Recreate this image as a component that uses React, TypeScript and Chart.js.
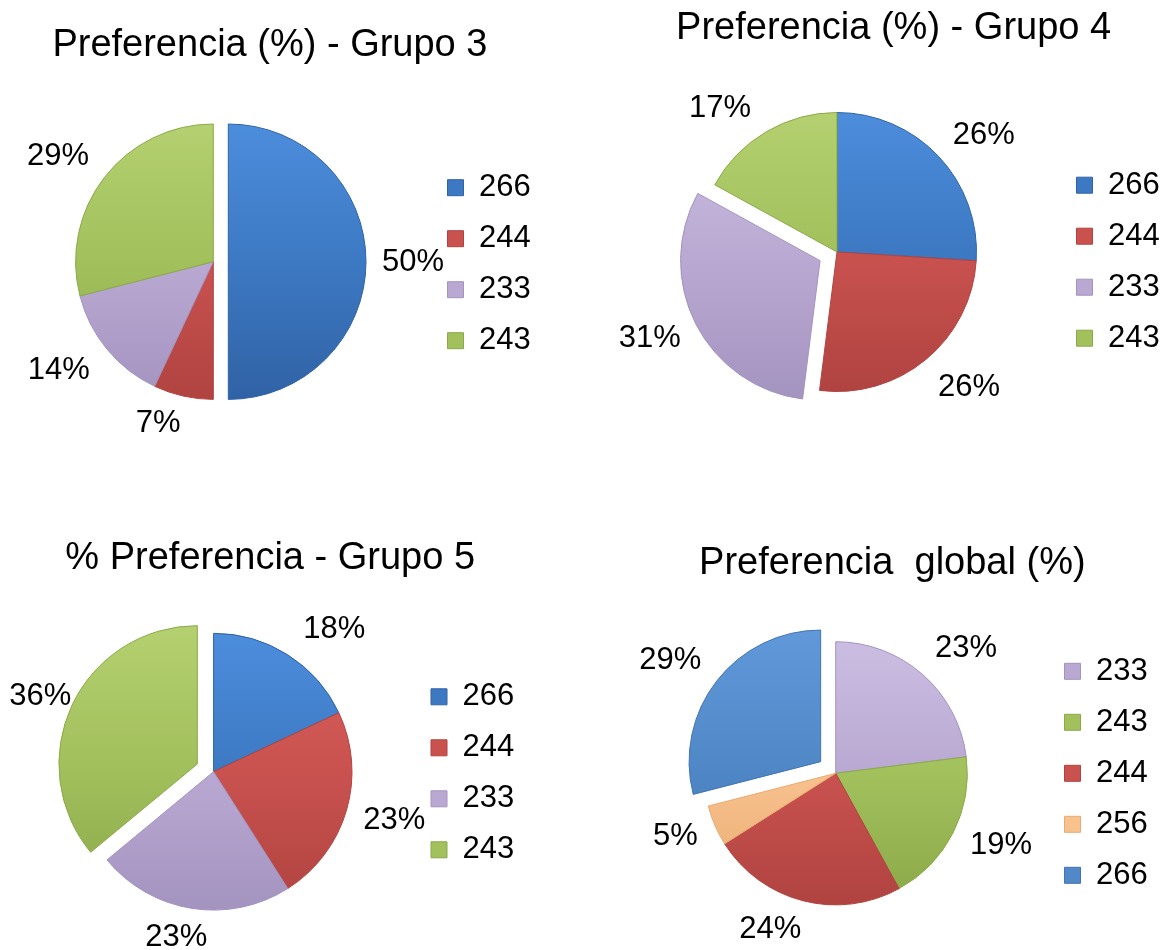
import React, { useEffect, useRef } from 'react';
import { Chart, registerables, ArcElement } from 'chart.js';

Chart.register(...registerables);

const FONT = "'Liberation Sans', Arial, Helvetica, sans-serif";

// ---------------- data ----------------
const TITLE_G3 = 'Preferencia (%) - Grupo 3';
const LABELS_G3 = ['266', '244', '233', '243'];
const VALUES_G3 = [50, 7, 14, 29];

const TITLE_G4 = 'Preferencia (%) - Grupo 4';
const LABELS_G4 = ['266', '244', '233', '243'];
const VALUES_G4 = [26, 26, 31, 17];

const TITLE_G5 = '% Preferencia - Grupo 5';
const LABELS_G5 = ['266', '244', '233', '243'];
const VALUES_G5 = [18, 23, 23, 36];

const TITLE_GLOBAL = 'Preferencia  global (%)';
const LABELS_GLOBAL = ['233', '243', '244', '256', '266'];
const VALUES_GLOBAL = [23, 19, 24, 5, 29];

// ---------------- style ----------------
// [light, mid, dark]
const SHADES: Record<string, string[]> = {
  '266': ['#4C8DDC', '#3D79C3', '#3062A5'],
  '244': ['#D9625F', '#C9524F', '#B04340'],
  '233': ['#CBBDE2', '#B9A9D2', '#A393BF'],
  '243': ['#B4D070', '#A2C05C', '#8BA948'],
  '256': ['#FDD3A8', '#F8C18E', '#E9AB72'],
};
const SHADES_GLOBAL: Record<string, string[]> = {
  ...SHADES,
  '266': ['#6098D9', '#5088C8', '#4174B1'],
};

const LEG_FONT = 31;
const LEG_PAD = 20;
const BOX = 16;
const TITLE_SIZE = 38;
const TITLE_LH = TITLE_SIZE * 1.2;
const TITLE_PT = 4;
const HALF = 170;
const MARGIN = 45;
const LABEL_FONT = 31;
const LABEL_GAP_X = 55;
const LABEL_GAP_Y = 31;

// small per-label placement nudges (Excel "best fit" placement)
const NUDGE_G3 = [[-8, 1], [-13, -3], [-6, 1], [-3, -2]];
const NUDGE_G4 = [[5, 0], [8, 4], [3, 0], [-18, 3]];
const NUDGE_G5 = [[17, 1], [-5, 1], [-7, -2], [18, 5]];
const NUDGE_GLOBAL = [[7, -3], [-1, -2], [-19, -1], [11, -1], [-3, -2]];

type Layout = {
  pieX: number;
  pieY: number;
  r: number;
  titleY: number;
  legendX: number;
  legendShift: number;
  explode: number[];
  nudge: number[][];
};

type Spec = {
  title: string;
  labels: string[];
  values: number[];
  shades: Record<string, string[]>;
  layout: Layout;
};

const SPECS: Spec[] = [
  {
    title: TITLE_G3,
    labels: LABELS_G3,
    values: VALUES_G3,
    shades: SHADES,
    layout: { pieX: 213.3, pieY: 261.7, r: 137.7, titleY: 46, legendX: 479, legendShift: 2.5, explode: [15, 0, 0, 0], nudge: NUDGE_G3 },
  },
  {
    title: TITLE_G4,
    labels: LABELS_G4,
    values: VALUES_G4,
    shades: SHADES,
    layout: { pieX: 837, pieY: 252, r: 139.5, titleY: 29, legendX: 1108, legendShift: 9.7, explode: [0, 0, 19, 0], nudge: NUDGE_G4 },
  },
  {
    title: TITLE_G5,
    labels: LABELS_G5,
    values: VALUES_G5,
    shades: SHADES,
    layout: { pieX: 213.6, pieY: 771.7, r: 138.4, titleY: 558.5, legendX: 462.5, legendShift: 1.6, explode: [0, 0, 0, 18], nudge: NUDGE_G5 },
  },
  {
    title: TITLE_GLOBAL,
    labels: LABELS_GLOBAL,
    values: VALUES_GLOBAL,
    shades: SHADES_GLOBAL,
    layout: { pieX: 835.7, pieY: 773.3, r: 131.6, titleY: 564, legendX: 1096, legendShift: 0, explode: [0, 0, 0, 0, 19], nudge: NUDGE_GLOBAL },
  },
];

function measureMax(labels: string[]): number {
  const c = document.createElement('canvas');
  const ctx = c.getContext('2d')!;
  ctx.font = `${LEG_FONT}px ${FONT}`;
  return Math.max(...labels.map((l) => ctx.measureText(l).width));
}

function geometry(spec: Spec) {
  const lay = spec.layout;
  const legendLeft = lay.legendX - (LEG_PAD + BOX + LEG_FONT / 2);
  const areaLeft = 2 * lay.pieX - legendLeft;
  const tw = measureMax(spec.labels);
  const L = 10 + LEG_PAD + BOX + LEG_FONT / 2 + tw;
  const X0 = Math.floor(areaLeft - MARGIN);
  const pl = areaLeft - X0;
  const rightEdge = legendLeft + L;
  const W = Math.ceil(rightEdge + MARGIN - X0);
  const pr = W - (rightEdge - X0);
  const titleTop = lay.titleY - TITLE_LH / 2 - TITLE_PT;
  const Y0 = Math.floor(titleTop - MARGIN);
  const pt = titleTop - Y0;
  const areaTop = lay.pieY - HALF;
  const tpb = Math.max(0, areaTop - (titleTop + TITLE_PT + TITLE_LH));
  const bottom = lay.pieY + HALF;
  const H = Math.ceil(bottom + MARGIN - Y0);
  const pb = H - (bottom - Y0);
  return { X0, Y0, W, H, pl, pr, pt, pb, tpb };
}

const explodePlugin = {
  id: 'explodeSlices',
  afterDatasetUpdate(chart: any, args: any) {
    const ds = chart.data.datasets[args.index];
    const ex: number[] = ds.explode || [];
    args.meta.data.forEach((el: any, i: number) => {
      const d = ex[i] || 0;
      el.draw = function (ctx: CanvasRenderingContext2D, area: any) {
        const mid = (this.startAngle + this.endAngle) / 2;
        ctx.save();
        ctx.translate(Math.cos(mid) * d, Math.sin(mid) * d);
        ArcElement.prototype.draw.call(this, ctx, area);
        ctx.restore();
      };
    });
  },
};

const pctLabelPlugin = {
  id: 'pctLabels',
  afterDatasetsDraw(chart: any) {
    const ctx: CanvasRenderingContext2D = chart.ctx;
    const meta = chart.getDatasetMeta(0);
    const ds = chart.data.datasets[0];
    const ex: number[] = ds.explode || [];
    const nudge: number[][] = ds.labelNudge || [];
    ctx.save();
    ctx.font = `${LABEL_FONT}px ${FONT}`;
    ctx.fillStyle = '#000';
    ctx.textAlign = 'center';
    ctx.textBaseline = 'middle';
    meta.data.forEach((el: any, i: number) => {
      const mid = (el.startAngle + el.endAngle) / 2;
      const ux = Math.cos(mid);
      const uy = Math.sin(mid);
      const d = ex[i] || 0;
      const r = el.outerRadius;
      const n = nudge[i] || [0, 0];
      const lx = el.x + ux * d + ux * (r + LABEL_GAP_X) + n[0];
      const ly = el.y + uy * d + uy * (r + LABEL_GAP_Y) + n[1];
      ctx.fillText(`${ds.data[i]}%`, lx, ly);
    });
    ctx.restore();
  },
};

function PieCanvas({ spec }: { spec: Spec }) {
  const ref = useRef<HTMLCanvasElement>(null);
  const geo = geometry(spec);

  useEffect(() => {
    const lay = spec.layout;
    const light = spec.labels.map((l) => spec.shades[l][0]);
    const mid = spec.labels.map((l) => spec.shades[l][1]);
    const dark = spec.labels.map((l) => spec.shades[l][2]);
    const th = lay.legendShift * 2;

    const chart = new Chart(ref.current as HTMLCanvasElement, {
      type: 'pie',
      data: {
        labels: spec.labels,
        datasets: [
          {
            data: spec.values,
            radius: lay.r,
            explode: lay.explode,
            labelNudge: lay.nudge,
            backgroundColor: (c: any) => {
              const area = c.chart.chartArea;
              const i = c.dataIndex ?? 0;
              if (!area) return mid[i];
              const cy = (area.top + area.bottom) / 2;
              const g = c.chart.ctx.createLinearGradient(0, cy - lay.r, 0, cy + lay.r);
              g.addColorStop(0, light[i]);
              g.addColorStop(0.5, mid[i]);
              g.addColorStop(1, dark[i]);
              return g;
            },
            borderColor: dark,
            borderWidth: 1,
          } as any,
        ],
      },
      options: {
        animation: false,
        responsive: false,
        events: [],
        layout: { padding: { left: geo.pl, right: geo.pr, top: geo.pt, bottom: geo.pb } },
        plugins: {
          tooltip: { enabled: false },
          title: {
            display: true,
            text: spec.title,
            color: '#000',
            font: { family: FONT, size: TITLE_SIZE, weight: 'normal', lineHeight: 1.2 },
            padding: { top: TITLE_PT, bottom: geo.tpb },
          },
          legend: {
            display: true,
            position: 'right',
            align: 'center',
            fullSize: false,
            title: {
              display: th > 0,
              text: '',
              font: { size: 1, lineHeight: 1 },
              padding: { top: Math.max(0, th - 1), bottom: 0 },
            },
            labels: {
              color: '#000',
              font: { family: FONT, size: LEG_FONT },
              boxWidth: BOX,
              boxHeight: BOX,
              padding: LEG_PAD,
              generateLabels: (ch: any) =>
                ch.data.labels.map((text: string, i: number) => ({
                  text,
                  fillStyle: mid[i],
                  strokeStyle: dark[i],
                  lineWidth: 1,
                  hidden: false,
                  index: i,
                  fontColor: '#000',
                })),
            },
          },
        },
      } as any,
      plugins: [explodePlugin, pctLabelPlugin],
    });
    return () => chart.destroy();
  }, []);

  return (
    <canvas
      ref={ref}
      width={geo.W}
      height={geo.H}
      style={{ position: 'absolute', left: geo.X0, top: geo.Y0, width: geo.W, height: geo.H }}
    />
  );
}

export default function App() {
  return (
    <div
      style={{
        position: 'absolute',
        left: 0,
        top: 0,
        width: 1173,
        height: 950,
        overflow: 'hidden',
        background: '#ffffff',
      }}
    >
      {SPECS.map((s, i) => (
        <PieCanvas key={i} spec={s} />
      ))}
    </div>
  );
}
